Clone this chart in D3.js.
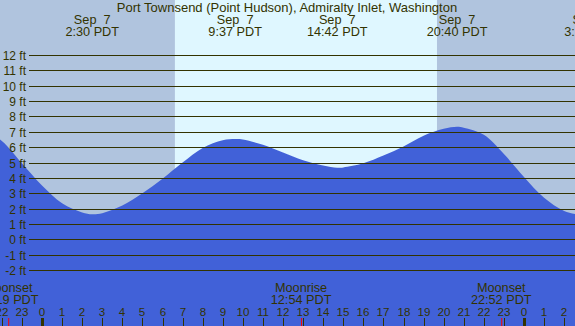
<!DOCTYPE html>
<html>
  <head>
    <title>Port Townsend tide chart</title>
    <meta charset="UTF-8">
    <script src="https://cdnjs.cloudflare.com/ajax/libs/d3/7.8.5/d3.min.js"></script>
  </head>
  <style type="text/css">
    body {
      margin: 0px;
      overflow: hidden;
    }
    svg text {
      font-family: "Liberation Sans", Arial, sans-serif;
      font-size: 12.7px;
      fill: #333300;
      white-space: pre;
    }
    .title {
      font-size: 13px;
    }
    .feet text {
      font-size: 12px;
    }
    .hour text {
      font-size: 11.6px;
    }
    .grid {
      stroke: #333300;
      stroke-width: 1;
    }
  </style>
  <body>
    <div id="chart"></div>
    <script>
      // tide heights (hours from Sep 7 00:00 PDT, feet)
      const tideHours = [-3, -2, -1, 0, 1, 2, 2.5, 3, 4, 5, 6, 7, 8, 9, 9.62, 10, 11, 12, 13, 14, 14.7, 15, 16, 17, 18, 19, 20, 20.67, 21, 22, 23, 24, 25, 26, 27, 27.33];
      const tideFeet  = [7.2, 6.4, 4.95, 3.5, 2.35, 1.75, 1.63, 1.7, 2.2, 3.0, 3.95, 5.0, 5.95, 6.45, 6.53, 6.5, 6.15, 5.65, 5.15, 4.8, 4.66, 4.68, 4.95, 5.45, 6.05, 6.75, 7.2, 7.33, 7.26, 6.8, 5.55, 4.05, 2.7, 1.85, 1.55, 1.5];

      // high / low tide labels along the top
      const eventHours = [2.5, 9.617, 14.7, 20.667, 27.333];
      const eventDates = ["Sep  7", "Sep  7", "Sep  7", "Sep  7", "Sep  8"];
      const eventTimes = ["2:30 PDT", "9:37 PDT", "14:42 PDT", "20:40 PDT", "3:20 PDT"];

      // moon events along the bottom
      const moonHours = [-1.683, 12.9, 22.867];
      const moonNames = ["Moonset", "Moonrise", "Moonset"];
      const moonTimes = ["22:19 PDT", "12:54 PDT", "22:52 PDT"];

      const sunrise = 6.617;
      const sunset = 19.667;

      const feetTicks = [-2, -1, 0, 1, 2, 3, 4, 5, 6, 7, 8, 9, 10, 11, 12];
      const hourTicks = [-2, -1, 0, 1, 2, 3, 4, 5, 6, 7, 8, 9, 10, 11, 12, 13, 14, 15, 16, 17, 18, 19, 20, 21, 22, 23, 24, 25, 26];

      const title = "Port Townsend (Point Hudson), Admiralty Inlet, Washington";

      const width = 575;
      const height = 326;

      const x = d3.scaleLinear().domain([0, 24]).range([42, 524]);
      const y = d3.scaleLinear().domain([-2, 12]).range([270, 55]);

      const svg = d3.select("#chart")
        .append("svg")
        .attr("width", width)
        .attr("height", height);

      // night / day background
      const night = "#b0c4de";
      const day = "#dff7ff";
      svg.append("rect")
        .attr("x", 0).attr("y", 0)
        .attr("width", width).attr("height", height)
        .attr("fill", night);
      svg.append("rect")
        .attr("x", x(sunrise)).attr("y", 0)
        .attr("width", x(sunset) - x(sunrise)).attr("height", height)
        .attr("fill", day);

      // tide area
      const tide = tideHours.map((h, i) => ({h: h, ft: tideFeet[i]}));
      const area = d3.area()
        .x(d => x(d.h))
        .y0(height)
        .y1(d => y(d.ft))
        .curve(d3.curveCatmullRom.alpha(0.5));
      svg.append("path")
        .datum(tide)
        .attr("d", area)
        .attr("fill", "#4161d8");

      // horizontal grid lines with feet labels
      const grid = svg.selectAll(".feet")
        .data(feetTicks).enter()
        .append("g")
        .attr("class", "feet")
        .attr("transform", d => "translate(0," + Math.round(y(d)) + ")");
      grid.append("line")
        .attr("class", "grid")
        .attr("x1", 29).attr("x2", width)
        .attr("y1", 0.5).attr("y2", 0.5);
      grid.append("text")
        .attr("x", 26).attr("y", 5)
        .attr("text-anchor", "end")
        .text(d => d + " ft");

      // title
      svg.append("text")
        .attr("class", "title")
        .attr("x", 287).attr("y", 12)
        .attr("text-anchor", "middle")
        .text(title);

      // high / low labels
      const ev = svg.selectAll(".event")
        .data(eventHours).enter()
        .append("g")
        .attr("class", "event")
        .attr("transform", d => "translate(" + x(d) + ",0)");
      ev.append("text")
        .attr("y", 23.5).attr("text-anchor", "middle")
        .text((d, i) => eventDates[i]);
      ev.append("text")
        .attr("y", 35.5).attr("text-anchor", "middle")
        .text((d, i) => eventTimes[i]);

      // moon labels
      const moon = svg.selectAll(".moon")
        .data(moonHours).enter()
        .append("g")
        .attr("class", "moon")
        .attr("transform", d => "translate(" + x(d) + ",0)");
      moon.append("text")
        .attr("y", 292).attr("text-anchor", "middle")
        .text((d, i) => moonNames[i]);
      moon.append("text")
        .attr("y", 303.5).attr("text-anchor", "middle")
        .text((d, i) => moonTimes[i]);
      moon.append("line")
        .attr("x1", 0.5).attr("x2", 0.5)
        .attr("y1", 318).attr("y2", height)
        .attr("stroke", "red");

      // hour axis
      const hours = svg.selectAll(".hour")
        .data(hourTicks).enter()
        .append("g")
        .attr("class", "hour")
        .attr("transform", d => "translate(" + Math.round(x(d)) + ",0)");
      hours.append("text")
        .attr("y", 315.5).attr("text-anchor", "middle")
        .text(d => (d + 24) % 24);
      hours.append("line")
        .attr("x1", 0.5).attr("x2", 0.5)
        .attr("y1", 318).attr("y2", height)
        .attr("stroke", "#333300")
        .attr("stroke-width", d => d % 24 === 0 ? 3 : 1);
    </script>
  </body>
</html>
